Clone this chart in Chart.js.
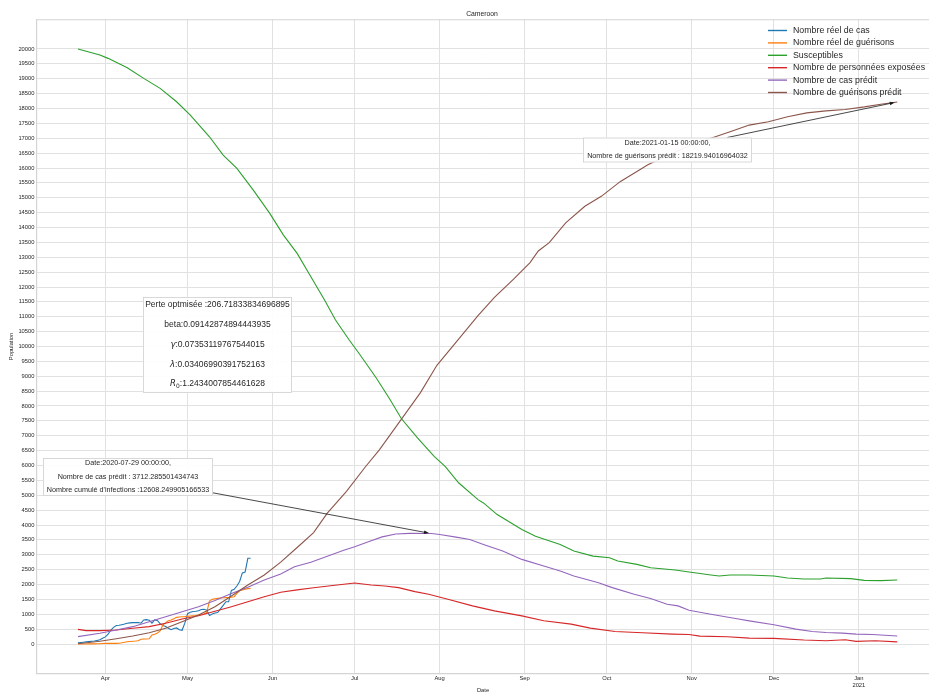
<!DOCTYPE html>
<html>
<head>
<meta charset="utf-8">
<title>Cameroon</title>
<script src="https://cdn.jsdelivr.net/npm/chart.js@4.4.0/dist/chart.umd.min.js"></script>
<style>
  html, body { margin: 0; padding: 0; background: #fff; overflow: hidden; }
  canvas { display: block; }
</style>
</head>
<body>
<canvas id="chart" width="929" height="695"></canvas>
<script>
// ---- Data ---------------------------------------------------------------
// Day 0 of every series is the first observation date.
const startDate = '2020-03-22';

// Month ticks on the date axis
const monthTickDates  = ['2020-04-01', '2020-05-01', '2020-06-01', '2020-07-01', '2020-08-01',
                         '2020-09-01', '2020-10-01', '2020-11-01', '2020-12-01', '2021-01-01'];
const monthTickLabels = ['Apr', 'May', 'Jun', 'Jul', 'Aug', 'Sep', 'Oct', 'Nov', 'Dec', ['Jan', '2021']];

// Population ticks
const yTickFirst = 0, yTickLast = 20000, yTickStep = 500;

// Observed daily series (day 0 .. 63)
const reelCas = [
  40, 50, 60, 70, 80, 90, 100, 120, 140, 190,
  240, 330, 470, 560, 620, 630, 650, 670, 700, 710,
  720, 720, 720, 700, 810, 820, 800, 700, 810, 790,
  680, 620, 590, 530, 480, 520, 540, 480, 460, 700,
  1020, 1070, 1090, 1100, 1120, 1160, 1170, 1140, 960, 1010,
  1040, 1060, 1180, 1300, 1420, 1420, 1800, 1840, 1950, 2100,
  2390, 2420, 2880, 2880
];
const reelGuerisons = [
  0, 0, 0, 0, 5, 5, 5, 10, 10, 15,
  20, 20, 20, 20, 20, 25, 40, 60, 75, 85,
  95, 100, 110, 160, 170, 170, 175, 300, 330, 370,
  440, 640, 720, 780, 805, 850, 895, 910, 915, 920,
  930, 940, 950, 960, 975, 990, 1010, 1060, 1440, 1500,
  1520, 1535, 1545, 1555, 1560, 1565, 1570, 1590, 1700, 1790,
  1820, 1840, 1860, 1870
];

// Model series as [day, value]
const susceptibles = [
  [0, 20000], [8, 19800], [11, 19685], [18, 19370], [24, 19013], [30, 18677], [36, 18226],
  [41, 17780], [48, 17050], [53, 16435], [58, 15988], [64, 15258], [70, 14476], [75, 13745],
  [80, 13130], [85, 12345], [90, 11560], [94, 10890], [99, 10217], [103, 9713], [109, 8923],
  [114, 8201], [118, 7580], [124, 6917], [130, 6304], [134, 5969], [139, 5411], [146, 4853],
  [148, 4741], [153, 4350], [162, 3848], [167, 3625], [176, 3346], [181, 3123], [188, 2955],
  [194, 2900], [197, 2788], [204, 2676], [209, 2565], [218, 2487], [223, 2420], [231, 2319],
  [234, 2286], [238, 2319], [245, 2319], [254, 2286], [259, 2219], [265, 2185], [271, 2185],
  [273, 2219], [282, 2196], [287, 2140], [293, 2129], [299, 2150]
];
const exposes = [
  [0, 493], [3, 450], [8, 448], [14, 471], [20, 527], [26, 583], [32, 695], [38, 840],
  [44, 950], [50, 1100], [56, 1255], [62, 1420], [68, 1590], [74, 1740], [80, 1820],
  [86, 1889], [93, 1967], [101, 2050], [107, 1984], [112, 1950], [117, 1895], [123, 1761],
  [128, 1672], [135, 1504], [144, 1281], [152, 1114], [162, 946], [170, 779], [180, 667],
  [187, 533], [196, 421], [206, 377], [217, 333], [223, 321], [227, 266], [237, 243],
  [245, 199], [254, 188], [265, 132], [273, 110], [280, 143], [284, 87], [291, 110], [299, 70]
];
const casPredit = [
  [0, 247], [8, 360], [14, 471], [20, 583], [26, 751], [32, 919], [38, 1087], [44, 1255],
  [50, 1460], [56, 1700], [62, 1910], [68, 2150], [74, 2350], [79, 2600], [85, 2750],
  [91, 2950], [97, 3150], [101, 3270], [106, 3440], [111, 3600], [116, 3700], [121, 3720],
  [129, 3712.285501434743], [132, 3681], [138, 3592], [143, 3513], [148, 3346], [155, 3123],
  [162, 2844], [170, 2621], [176, 2453], [181, 2286], [190, 2062], [195, 1895], [203, 1672],
  [209, 1527], [215, 1337], [219, 1281], [223, 1136], [231, 1002], [240, 857], [245, 778],
  [254, 645], [262, 500], [268, 421], [273, 388], [279, 366], [284, 333], [290, 321], [299, 270]
];
const guerisonsPredit = [
  [0, 10], [8, 90], [14, 179], [20, 269], [26, 381], [32, 527], [38, 751], [44, 975],
  [50, 1255], [56, 1614], [62, 1984], [68, 2320], [74, 2750], [80, 3244], [86, 3744],
  [91, 4400], [98, 5133], [105, 5966], [110, 6527], [118, 7550], [125, 8450], [131, 9368],
  [139, 10259], [146, 11039], [152, 11651], [159, 12264], [165, 12821], [168, 13211],
  [172, 13489], [178, 14157], [185, 14714], [191, 15048], [198, 15549], [204, 15883],
  [208, 16106], [213, 16328], [223, 16741], [231, 16997], [238, 17219], [245, 17442],
  [252, 17553], [259, 17720], [266, 17854], [273, 17921], [280, 17965], [287, 18054],
  [293, 18144], [299, 18219.94016964032]
];

// Fitted parameters shown in the text box
const perteOptimisee = '206.71833834696895';
const betaFit   = '0.09142874894443935';
const gammaFit  = '0.07353119767544015';
const lambdaFit = '0.03406990391752163';
const r0Fit     = '1.2434007854461628';
const cumulInfections = '12608.249905166533';

// Annotated dates
const peakNoteDate = '2020-07-29';
const endNoteDate  = '2021-01-15';

// ---- Helpers ------------------------------------------------------------
const DAY_MS = 86400000;
const dayIndex = s => Math.round((Date.parse(s) - Date.parse(startDate)) / DAY_MS);
const daily = arr => arr.map((y, i) => ({ x: i, y }));
const pairs = arr => arr.map(([x, y]) => ({ x, y }));
const valueAt = (arr, day) => arr.find(p => p[0] === day)[1];
const yTicks = [];
for (let v = yTickFirst; v <= yTickLast; v += yTickStep) yTicks.push(v);

const FONT = "'Liberation Sans', Arial, Helvetica, sans-serif";
const MATH = "'DejaVu Sans', 'Liberation Sans', sans-serif";
const TEXT = '#262626';

Chart.defaults.font.family = FONT;
Chart.defaults.color = TEXT;

const colors = ['#1f77b4', '#ff7f0e', '#2ca02c', '#d62728', '#9467bd', '#8c564b'];
const seriesDefs = [
  { label: 'Nombre réel de cas', data: daily(reelCas) },
  { label: 'Nombre réel de guérisons', data: daily(reelGuerisons) },
  { label: 'Susceptibles', data: pairs(susceptibles) },
  { label: 'Nombre de personnées exposées', data: pairs(exposes) },
  { label: 'Nombre de cas prédit', data: pairs(casPredit) },
  { label: 'Nombre de guérisons prédit', data: pairs(guerisonsPredit) }
];

// ---- Overlay drawing: title, spines, notes, legend ----------------------
function drawRichLine(c, segs, cx, cy, size) {
  const fontOf = s => (s.it ? 'italic ' : '') + (s.sub ? size * 0.7 : size) + 'px ' + (s.it || s.sub ? MATH : FONT);
  let w = 0;
  segs.forEach(s => { c.font = fontOf(s); w += c.measureText(s.t).width; });
  let x = cx - w / 2;
  c.textAlign = 'left';
  c.textBaseline = 'middle';
  segs.forEach(s => {
    c.font = fontOf(s);
    c.fillText(s.t, x, s.sub ? cy + size * 0.3 : cy);
    x += c.measureText(s.t).width;
  });
}

function drawArrow(c, box, tx, ty) {
  const cx = box.x + box.w / 2, cy = box.y + box.h / 2;
  const dx = tx - cx, dy = ty - cy;
  // leave the box at its edge along the centre-to-target line
  const tEdge = Math.min(Math.abs((box.w / 2) / (dx || 1e-9)), Math.abs((box.h / 2) / (dy || 1e-9)));
  const sx = cx + dx * tEdge, sy = cy + dy * tEdge;
  const len = Math.hypot(tx - sx, ty - sy);
  const ux = (tx - sx) / len, uy = (ty - sy) / len;
  const ex = tx - ux * 2.5, ey = ty - uy * 2.5;
  c.save();
  c.strokeStyle = '#1a1a1a';
  c.fillStyle = '#1a1a1a';
  c.lineWidth = 0.8;
  c.beginPath(); c.moveTo(sx, sy); c.lineTo(ex - ux * 3, ey - uy * 3); c.stroke();
  c.beginPath();
  c.moveTo(ex, ey);
  c.lineTo(ex - ux * 5 - uy * 1.8, ey - uy * 5 + ux * 1.8);
  c.lineTo(ex - ux * 5 + uy * 1.8, ey - uy * 5 - ux * 1.8);
  c.closePath(); c.fill();
  c.restore();
}

function drawNote(c, box, lines, lineYs, size) {
  c.save();
  c.fillStyle = 'rgba(255,255,255,0.92)';
  c.fillRect(box.x, box.y, box.w, box.h);
  c.strokeStyle = '#cfcfcf';
  c.lineWidth = 0.8;
  c.strokeRect(box.x + 0.5, box.y + 0.5, box.w - 1, box.h - 1);
  c.fillStyle = TEXT;
  lines.forEach((segs, i) => drawRichLine(c, segs, box.x + box.w / 2, lineYs[i], size));
  c.restore();
}

const overlay = {
  id: 'overlay',
  beforeDraw(chart) {
    const c = chart.ctx;
    c.save(); c.fillStyle = '#fff'; c.fillRect(0, 0, chart.width, chart.height); c.restore();
  },
  afterDraw(chart) {
    const c = chart.ctx, a = chart.chartArea, xs = chart.scales.x, ys = chart.scales.y;

    // top spine
    c.save();
    c.strokeStyle = '#d4d4d4'; c.lineWidth = 1.2;
    c.beginPath(); c.moveTo(a.left, a.top + 0.5); c.lineTo(a.right, a.top + 0.5); c.stroke();

    // title
    c.fillStyle = TEXT;
    c.font = '6.8px ' + FONT;
    c.textAlign = 'center'; c.textBaseline = 'middle';
    c.fillText('Cameroon', 482, 14);
    c.restore();

    // fitted parameter box
    drawNote(c, { x: 143, y: 297, w: 149, h: 96 }, [
      [{ t: 'Perte optmisée :' + perteOptimisee }],
      [{ t: 'beta:' + betaFit }],
      [{ t: 'γ', it: true }, { t: ':' + gammaFit }],
      [{ t: 'λ', it: true }, { t: ':' + lambdaFit }],
      [{ t: 'R', it: true }, { t: '0', sub: true }, { t: ':' + r0Fit }]
    ], [305, 325, 345, 364.5, 384], 8.5);

    // peak of predicted cases
    const peakDay = dayIndex(peakNoteDate);
    const peakVal = valueAt(casPredit, peakDay);
    const box2 = { x: 43, y: 458, w: 170, h: 38 };
    drawArrow(c, box2, xs.getPixelForValue(peakDay), ys.getPixelForValue(peakVal));
    drawNote(c, box2, [
      [{ t: 'Date:' + peakNoteDate + ' 00:00:00,' }],
      [{ t: 'Nombre de cas prédit : ' + String(peakVal) }],
      [{ t: "Nombre cumulé d'infections :" + cumulInfections }]
    ], [463.5, 477, 490.5], 7.2);

    // final predicted recoveries
    const endDay = dayIndex(endNoteDate);
    const endVal = valueAt(guerisonsPredit, endDay);
    const box3 = { x: 583, y: 137.5, w: 169, h: 25 };
    drawArrow(c, box3, xs.getPixelForValue(endDay), ys.getPixelForValue(endVal));
    drawNote(c, box3, [
      [{ t: 'Date:' + endNoteDate + ' 00:00:00,' }],
      [{ t: 'Nombre de guérisons prédit : ' + String(endVal) }]
    ], [143.5, 156.5], 7.2);

    // legend
    c.save();
    c.font = '8.8px ' + FONT;
    c.textAlign = 'left'; c.textBaseline = 'middle';
    chart.data.datasets.forEach((ds, i) => {
      const y = 30.5 + i * 12.4;
      c.strokeStyle = ds.borderColor; c.lineWidth = 1.4;
      c.beginPath(); c.moveTo(768, y); c.lineTo(787, y); c.stroke();
      c.fillStyle = TEXT;
      c.fillText(ds.label, 793, y);
    });
    c.restore();
  }
};

// ---- Chart --------------------------------------------------------------
const gridColor = '#e1e1e1';
const spineColor = '#d4d4d4';

new Chart(document.getElementById('chart'), {
  type: 'line',
  data: {
    datasets: seriesDefs.map((s, i) => ({
      label: s.label,
      data: s.data,
      borderColor: colors[i],
      backgroundColor: colors[i],
      borderWidth: 1.1,
      pointRadius: 0,
      tension: 0,
      fill: false,
      order: seriesDefs.length - i
    }))
  },
  options: {
    responsive: false,
    animation: false,
    events: [],
    layout: { padding: { top: 19.25, right: 0, bottom: 0, left: 0 } },
    plugins: { legend: { display: false }, tooltip: { enabled: false }, title: { display: false } },
    scales: {
      x: {
        type: 'linear',
        min: -14.95,
        max: 310.6,
        afterBuildTicks: s => { s.ticks = monthTickDates.map(d => ({ value: dayIndex(d) })); },
        afterFit: s => { s.height = 21.25; },
        ticks: {
          autoSkip: false, maxRotation: 0, minRotation: 0, padding: 1,
          font: { size: 5.8 }, color: TEXT,
          callback: (v, i) => monthTickLabels[i]
        },
        grid: { color: gridColor, lineWidth: 1, drawTicks: false },
        border: { color: spineColor, width: 1.2 },
        title: { display: true, text: 'Date', font: { size: 5.8 }, color: TEXT, padding: { top: 0, bottom: 1.4 } }
      },
      y: {
        min: -1000,
        max: 21000,
        afterBuildTicks: s => { s.ticks = yTicks.map(v => ({ value: v })); },
        afterFit: s => { s.width = 37; },
        ticks: { padding: 2.5, font: { size: 5.8 }, color: TEXT, callback: v => String(v) },
        grid: { color: gridColor, lineWidth: 1, drawTicks: false },
        border: { color: spineColor, width: 1.2 },
        title: { display: true, text: 'Population', font: { size: 5.8 }, color: TEXT, padding: { top: 8.4, bottom: 0 } }
      }
    }
  },
  plugins: [overlay]
});
</script>
</body>
</html>
